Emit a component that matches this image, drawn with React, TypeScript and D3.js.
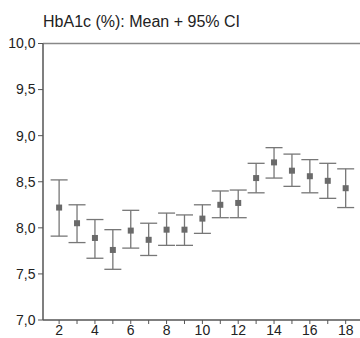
import React from "react";
import * as d3 from "d3";

// visits 2..18, mean HbA1c with 95% CI
const visits = [2, 3, 4, 5, 6, 7, 8, 9, 10, 11, 12, 13, 14, 15, 16, 17, 18];
const means = [8.22, 8.05, 7.89, 7.76, 7.97, 7.87, 7.98, 7.98, 8.1, 8.25, 8.27, 8.54, 8.71, 8.62, 8.56, 8.51, 8.43];
const upper = [8.52, 8.25, 8.09, 7.98, 8.19, 8.05, 8.16, 8.14, 8.25, 8.4, 8.41, 8.7, 8.87, 8.8, 8.74, 8.7, 8.64];
const lower = [7.91, 7.84, 7.67, 7.55, 7.78, 7.7, 7.81, 7.81, 7.94, 8.11, 8.11, 8.38, 8.54, 8.45, 8.38, 8.32, 8.22];
const yTicks = [7.0, 7.5, 8.0, 8.5, 9.0, 9.5, 10.0];
const xTicks = d3.range(2, 19);
const xLabels = [2, 4, 6, 8, 10, 12, 14, 16, 18];

const title = "HbA1c (%): Mean + 95% CI";

const width = 360;
const height = 338;
const margin = { top: 43.5, right: 0, bottom: 18, left: 43 };

const App = () => {
  const xScale = d3
    .scaleLinear()
    .domain([1.1, 18.8])
    .range([margin.left, width - margin.right]);
  const yScale = d3
    .scaleLinear()
    .domain([7, 10])
    .range([height - margin.bottom, margin.top]);

  const font = "'Liberation Sans', Arial, sans-serif";
  const axisColor = "#555";
  const barColor = "#777";
  const capHalf = 8.5;
  const box = 6;

  return (
    <svg
      width={width}
      height={height}
      style={{ position: "absolute", left: 0, top: 0, background: "#fff" }}
    >
      <text x={43} y={26.5} fontFamily={font} fontSize={16} fill="#222">
        {title}
      </text>

      {/* frame: top border, left and bottom axes */}
      <line x1={margin.left} x2={width} y1={yScale(10)} y2={yScale(10)} stroke="#888" strokeWidth={1.5} />
      <line x1={margin.left} x2={margin.left} y1={yScale(10)} y2={yScale(7)} stroke={axisColor} strokeWidth={1.5} />
      <line x1={margin.left} x2={width} y1={yScale(7)} y2={yScale(7)} stroke={axisColor} strokeWidth={1.5} />

      {yTicks.map(t => (
        <g key={t}>
          <line x1={margin.left - 5} x2={margin.left} y1={yScale(t)} y2={yScale(t)} stroke={axisColor} />
          <text
            x={35.5}
            y={yScale(t)}
            dy="0.35em"
            textAnchor="end"
            fontFamily={font}
            fontSize={14}
            fill="#222"
          >
            {t.toFixed(1).replace(".", ",")}
          </text>
        </g>
      ))}

      {xTicks.map(t => (
        <line key={t} x1={xScale(t)} x2={xScale(t)} y1={yScale(7)} y2={yScale(7) + 4} stroke={axisColor} />
      ))}
      {xLabels.map(t => (
        <text
          key={t}
          x={xScale(t)}
          y={334.5}
          textAnchor="middle"
          fontFamily={font}
          fontSize={14}
          fill="#222"
        >
          {t}
        </text>
      ))}

      {visits.map((v, i) => {
        const cx = xScale(v);
        return (
          <g key={v}>
            <line x1={cx} x2={cx} y1={yScale(upper[i])} y2={yScale(lower[i])} stroke={barColor} strokeWidth={1.3} />
            <line x1={cx - capHalf} x2={cx + capHalf} y1={yScale(upper[i])} y2={yScale(upper[i])} stroke={barColor} strokeWidth={1.3} />
            <line x1={cx - capHalf} x2={cx + capHalf} y1={yScale(lower[i])} y2={yScale(lower[i])} stroke={barColor} strokeWidth={1.3} />
            <rect x={cx - box / 2} y={yScale(means[i]) - box / 2} width={box} height={box} fill="#6a6a6a" />
          </g>
        );
      })}
    </svg>
  );
};

export default App;
